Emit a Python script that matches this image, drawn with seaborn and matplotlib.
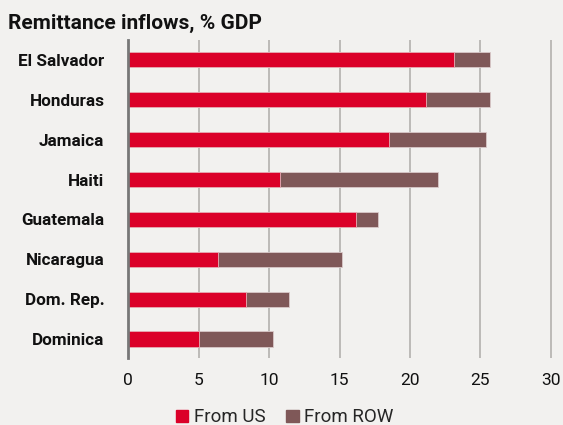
import matplotlib
matplotlib.use("Agg")
import matplotlib.pyplot as plt
import seaborn as sns
import pandas as pd
from matplotlib.patches import Patch

countries = ["El Salvador", "Honduras", "Jamaica", "Haiti", "Guatemala",
             "Nicaragua", "Dom. Rep.", "Dominica"]
from_us = [23.1, 21.1, 18.5, 10.8, 16.2, 6.4, 8.4, 5.0]
from_row = [2.6, 4.6, 6.9, 11.2, 1.5, 8.8, 3.0, 5.3]
xticks = [0, 5, 10, 15, 20, 25, 30]

total = [a + b for a, b in zip(from_us, from_row)]
df = pd.DataFrame({"country": countries, "us": from_us, "total": total})

RED = "#db0029"
BROWN = "#7f5858"
BG = "#f2f1ef"

sns.set_theme(style="white")
plt.rcParams["font.family"] = ["Roboto", "DejaVu Sans"]

fig = plt.figure(figsize=(5.63, 4.25), dpi=100, facecolor=BG)
ax = fig.add_axes([0.2274, 0.1576, 0.755, 0.748])
ax.set_facecolor(BG)

sns.barplot(data=df, y="country", x="total", orient="h", color=BROWN,
            width=0.39, edgecolor="#d9c9c9", linewidth=0.6, ax=ax, saturation=1)
sns.barplot(data=df, y="country", x="us", orient="h", color=RED,
            width=0.39, edgecolor="#e8b0b8", linewidth=0.6, ax=ax, saturation=1)

ax.set_xlim(0, 30.15)
ax.set_ylim(7.47, -0.49)
ax.set_xticks(xticks)
ax.set_xticklabels([str(t) for t in xticks], fontsize=12.5, color="#111111")
ax.set_xlabel("")
ax.set_ylabel("")
for lab in ax.get_yticklabels():
    lab.set_fontweight("bold")
    lab.set_fontsize(12.3)
    lab.set_color("#111111")
ax.tick_params(axis="y", length=0, pad=17)
ax.tick_params(axis="x", length=0, pad=11)

ax.grid(axis="x", color="#bcbab7", linewidth=1.4)
ax.set_axisbelow(True)
for s in ["top", "right", "bottom"]:
    ax.spines[s].set_visible(False)
ax.spines["left"].set_color("#777777")
ax.spines["left"].set_linewidth(2)
ax.spines["left"].set_zorder(5)

fig.text(0.014, 0.944, "Remittance inflows, % GDP", fontsize=15,
         fontweight="bold", color="#111111", va="center", ha="left")

handles = [Patch(color=RED, label="From US"), Patch(color=BROWN, label="From ROW")]
fig.legend(handles=handles, loc="center", bbox_to_anchor=(0.506, 0.018), ncol=2,
           frameon=False, fontsize=13.5, handlelength=0.65, handleheight=0.65,
           handletextpad=0.3, columnspacing=1.1, borderaxespad=0)

fig.savefig("out.png", dpi=100, facecolor=BG)
